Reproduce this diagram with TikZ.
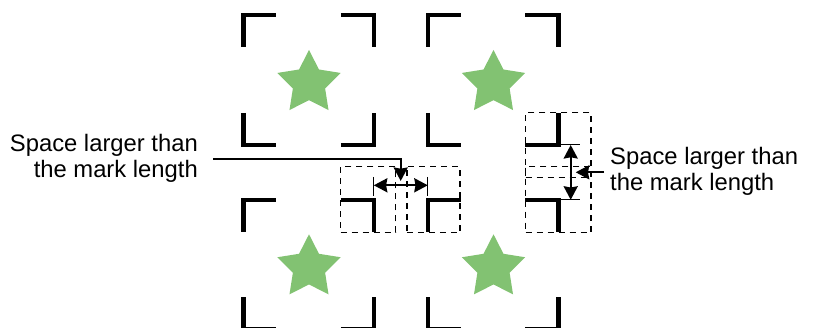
\documentclass[tikz,border=0pt]{standalone}
\usepackage{fontspec}
\setmainfont{Liberation Sans}
\usetikzlibrary{arrows.meta,shapes.geometric}
\definecolor{stargreen}{HTML}{82C272}
\tikzset{
  greenstar/.style={star,star points=5,star point ratio=1.96,minimum size=66.4pt,inner sep=0pt,fill=stargreen,draw=none},
  markline/.style={line width=4.4pt,line cap=butt,line join=miter,black},
  dashbox/.style={draw,line width=1.5pt,dash pattern=on 6pt off 5pt,black,inner sep=0pt},
  extline/.style={line width=1pt,black},
  bigtip/.tip={Stealth[length=13.5pt,width=14pt,inset=1.2pt]},
  dimarrow/.style={line width=2.2pt,black,bigtip-bigtip},
  leader/.style={line width=2.2pt,black,-bigtip},
  caption/.style={font=\fontsize{23.8pt}{26pt}\selectfont,inner sep=0pt}
}
\newcommand{\cropmarks}[4]{% left right top bottom
  \draw[markline] (#1,#3+32) -- (#1,#3) -- (#1+33,#3);
  \draw[markline] (#2-33,#3) -- (#2,#3) -- (#2,#3+32);
  \draw[markline] (#1,#4-32) -- (#1,#4) -- (#1+33,#4);
  \draw[markline] (#2-33,#4) -- (#2,#4) -- (#2,#4-32);
}
\begin{document}
\begin{tikzpicture}[x=1pt,y=-1pt]
\useasboundingbox (0,0) rectangle (813,328);
\cropmarks{243.3}{373.8}{15}{144.8}
\cropmarks{427.8}{558.3}{15}{144.8}
\cropmarks{243.3}{373.8}{199.8}{329.4}
\cropmarks{427.8}{558.3}{199.8}{329.4}
\node[greenstar] (s1) at (309,83.2) {};
\node[greenstar] (s2) at (493.5,83.2) {};
\node[greenstar] (s3) at (309,267.5) {};
\node[greenstar] (s4) at (493.5,267.5) {};
% dashed boxes, centre
\node[dashbox,minimum width=55pt,minimum height=65.6pt] (d1) at (368.2,199.5) {};
\node[dashbox,minimum width=53.3pt,minimum height=65.6pt] (d2) at (433.4,199.5) {};
% dashed boxes, right
\node[dashbox,minimum width=65.3pt,minimum height=65pt] (d3) at (558.3,145.2) {};
\node[dashbox,minimum width=65.3pt,minimum height=66pt] (d4) at (558.3,199.3) {};
% centre dimension
\coordinate (a1) at (373.8,185.3);
\coordinate (a2) at (427.8,185.3);
\coordinate (e1t) at (373.8,177);
\coordinate (e1b) at (373.8,196);
\coordinate (e2t) at (427.8,177);
\coordinate (e2b) at (427.8,196);
\draw[extline] (e1t) -- (e1b);
\draw[extline] (e2t) -- (e2b);
\draw[dimarrow] (a1) -- (a2);
% right dimension
\coordinate (b1) at (570.7,145);
\coordinate (b2) at (570.7,199.8);
\coordinate (f1l) at (560.5,145);
\coordinate (f1r) at (580,145);
\coordinate (f2l) at (560.5,199.8);
\coordinate (f2r) at (580,199.8);
\draw[extline] (f1l) -- (f1r);
\draw[extline] (f2l) -- (f2r);
\draw[dimarrow] (b1) -- (b2);
% captions
\node[caption,align=right,anchor=east] (t1) at (198,158.5) {Space larger than\\the mark length};
\node[caption,align=left,anchor=west] (t2) at (610,171.5) {Space larger than\\the mark length};
% leaders
\coordinate (l1s) at (213,158.7);
\coordinate (l1k) at (400.7,158.7);
\coordinate (l1e) at (400.7,181);
\draw[leader] (l1s) -- (l1k) -- (l1e);
\coordinate (l2s) at (604,172.3);
\coordinate (l2e) at (575.7,172.3);
\draw[leader] (l2s) -- (l2e);
\end{tikzpicture}
\end{document}
